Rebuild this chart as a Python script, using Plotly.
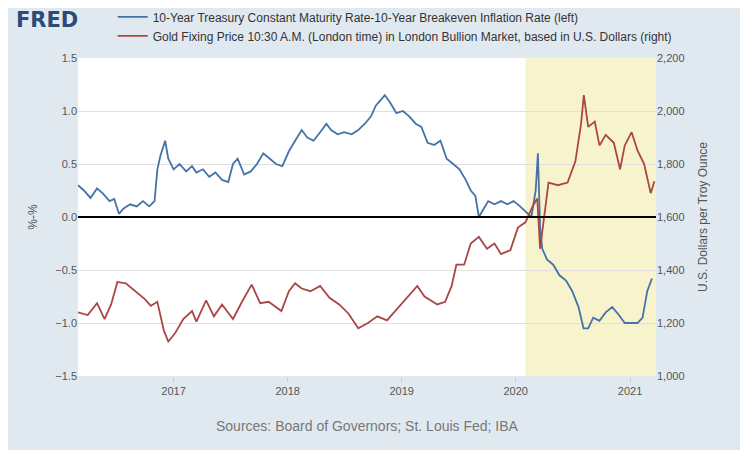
import plotly.graph_objects as go

dates_b = ["2016-03-01","2016-03-20","2016-04-10","2016-05-01","2016-05-20","2016-06-10","2016-06-25","2016-07-10","2016-07-25","2016-08-15","2016-09-05","2016-09-25","2016-10-15","2016-11-01","2016-11-10","2016-11-20","2016-12-05","2016-12-15","2017-01-01","2017-01-20","2017-02-10","2017-03-01","2017-03-15","2017-04-05","2017-04-25","2017-05-15","2017-06-05","2017-06-25","2017-07-10","2017-07-25","2017-08-15","2017-09-05","2017-09-25","2017-10-15","2017-11-05","2017-11-25","2017-12-15","2018-01-05","2018-01-25","2018-02-15","2018-03-05","2018-03-25","2018-04-15","2018-05-05","2018-05-20","2018-06-10","2018-07-01","2018-07-25","2018-08-15","2018-09-05","2018-09-25","2018-10-10","2018-10-25","2018-11-08","2018-11-25","2018-12-15","2019-01-05","2019-01-25","2019-02-15","2019-03-05","2019-03-25","2019-04-15","2019-05-05","2019-05-25","2019-06-15","2019-07-05","2019-07-25","2019-08-10","2019-08-25","2019-09-05","2019-09-15","2019-10-05","2019-10-25","2019-11-15","2019-12-05","2019-12-25","2020-01-15","2020-02-01","2020-02-20","2020-03-05","2020-03-12","2020-03-19","2020-03-26","2020-04-10","2020-04-30","2020-05-20","2020-06-10","2020-06-30","2020-07-20","2020-08-05","2020-08-20","2020-09-05","2020-09-25","2020-10-15","2020-11-05","2020-11-25","2020-12-15","2021-01-05","2021-01-25","2021-02-10","2021-02-25","2021-03-12"]
spread = [0.3,0.25,0.18,0.27,0.22,0.15,0.17,0.03,0.08,0.12,0.1,0.15,0.1,0.15,0.45,0.58,0.72,0.55,0.45,0.5,0.43,0.48,0.42,0.45,0.38,0.42,0.35,0.33,0.5,0.55,0.4,0.43,0.5,0.6,0.55,0.5,0.48,0.62,0.72,0.82,0.75,0.72,0.8,0.88,0.82,0.78,0.8,0.78,0.82,0.88,0.95,1.05,1.1,1.15,1.08,0.98,1.0,0.95,0.88,0.85,0.7,0.68,0.72,0.55,0.5,0.45,0.35,0.25,0.2,0.0,0.05,0.15,0.12,0.15,0.12,0.15,0.1,0.05,0.0,0.25,0.6,-0.1,-0.3,-0.4,-0.45,-0.55,-0.6,-0.7,-0.85,-1.05,-1.05,-0.95,-0.98,-0.9,-0.85,-0.92,-1.0,-1.0,-1.0,-0.95,-0.7,-0.58]

dates_g = ["2016-03-01","2016-04-01","2016-05-01","2016-05-25","2016-06-15","2016-07-05","2016-08-01","2016-09-01","2016-10-01","2016-10-20","2016-11-10","2016-12-01","2016-12-15","2017-01-05","2017-02-01","2017-03-01","2017-03-15","2017-04-15","2017-05-10","2017-06-05","2017-07-10","2017-08-10","2017-09-08","2017-10-05","2017-11-01","2017-12-12","2018-01-05","2018-01-25","2018-02-15","2018-03-15","2018-04-15","2018-05-15","2018-06-15","2018-07-15","2018-08-15","2018-09-15","2018-10-15","2018-11-15","2018-12-15","2019-01-15","2019-02-20","2019-03-15","2019-04-25","2019-05-20","2019-06-10","2019-06-25","2019-07-20","2019-08-10","2019-09-05","2019-10-01","2019-10-25","2019-11-15","2019-12-15","2020-01-08","2020-02-01","2020-02-24","2020-03-10","2020-03-19","2020-04-01","2020-04-15","2020-05-15","2020-06-15","2020-07-10","2020-07-28","2020-08-06","2020-08-20","2020-09-10","2020-09-25","2020-10-15","2020-11-10","2020-11-30","2020-12-15","2021-01-06","2021-01-25","2021-02-15","2021-03-08","2021-03-20"]
gold = [1240,1230,1275,1215,1270,1355,1350,1320,1290,1265,1280,1170,1130,1160,1215,1245,1205,1285,1225,1270,1215,1285,1345,1275,1280,1245,1320,1350,1330,1320,1340,1295,1270,1235,1180,1200,1225,1210,1250,1290,1340,1300,1270,1280,1340,1420,1420,1500,1525,1480,1500,1460,1475,1560,1580,1640,1670,1480,1610,1730,1720,1730,1810,1950,2060,1940,1960,1870,1910,1880,1780,1870,1920,1850,1800,1690,1735]

fig = go.Figure()
fig.add_trace(go.Scatter(x=dates_b, y=spread, mode="lines", line=dict(color="#4572a7", width=1.8),
    name="10-Year Treasury Constant Maturity Rate-10-Year Breakeven Inflation Rate (left)"))
fig.add_trace(go.Scatter(x=dates_g, y=gold, mode="lines", line=dict(color="#aa4643", width=1.8), yaxis="y2",
    name="Gold Fixing Price 10:30 A.M. (London time) in London Bullion Market, based in U.S. Dollars (right)"))

fig.add_vrect(x0="2020-02-01", x1="2021-03-25", fillcolor="#f7f3cd", opacity=1, line_width=0, layer="below")
fig.add_shape(type="line", xref="paper", x0=0, x1=1, yref="y", y0=0, y1=0, line=dict(color="black", width=2))

fig.update_layout(
    width=748, height=450, paper_bgcolor="#e1e9f0", plot_bgcolor="white",
    margin=dict(l=70, r=100, t=50, b=82, autoexpand=False),
    font=dict(family="Arial, Liberation Sans", color="#555", size=11),
    showlegend=True,
    legend=dict(x=0.06, y=1.175, xanchor="left", yanchor="top", bgcolor="rgba(0,0,0,0)",
                font=dict(size=12, color="#333"), tracegroupgap=0),
    xaxis=dict(type="date", range=["2016-03-01","2021-03-25"], showgrid=False, tickformat="%Y", dtick="M12",
               tick0="2017-01-01", ticks="outside", ticklen=5, tickcolor="#ccc", showline=False),
    yaxis=dict(range=[-1.5,1.5], dtick=0.5, tickformat=".1f", gridcolor="#e0e0e0", zeroline=False,
               title=dict(text="%-%", font=dict(size=12))),
    yaxis2=dict(range=[1000,2200], dtick=200, overlaying="y", side="right", showgrid=False,
                tickformat=",", title=dict(text="U.S. Dollars per Troy Ounce", font=dict(size=12))),
)
fig.add_annotation(text="<b>FRED</b>", xref="paper", yref="paper", x=-0.11, y=1.165, xanchor="left", yanchor="top",
                   showarrow=False, font=dict(size=21, color="#2b4b7a", family="Arial Black, DejaVu Sans"))
fig.add_annotation(text="Sources: Board of Governors; St. Louis Fed; IBA", xref="paper", yref="paper",
                   x=0.5, y=-0.19, showarrow=False, font=dict(size=14, color="#777"))
fig.write_html("out.html")
